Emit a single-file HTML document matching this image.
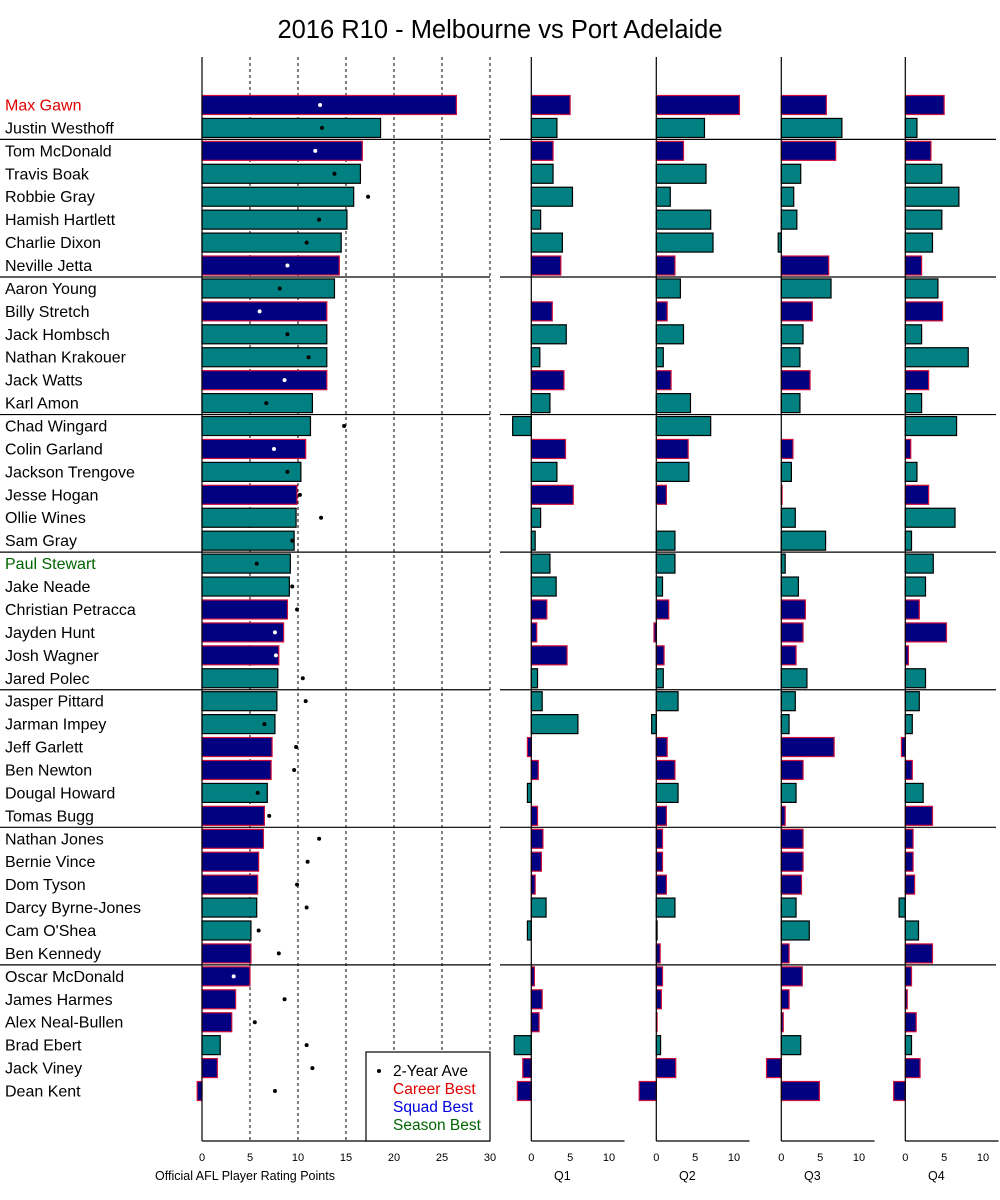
<!DOCTYPE html>
<html><head><meta charset="utf-8">
<style>
html,body{margin:0;padding:0;background:#fff;}
svg{display:block;font-family:"Liberation Sans",sans-serif;}
</style></head>
<body>
<svg id="chart" width="1000" height="1200" viewBox="0 0 1000 1200" xmlns="http://www.w3.org/2000/svg">
<text x="500" y="38" font-size="25.5" text-anchor="middle">2016 R10 - Melbourne vs Port Adelaide</text>
</svg>
<script>
const players = ["Max Gawn","Justin Westhoff","Tom McDonald","Travis Boak","Robbie Gray","Hamish Hartlett","Charlie Dixon","Neville Jetta","Aaron Young","Billy Stretch","Jack Hombsch","Nathan Krakouer","Jack Watts","Karl Amon","Chad Wingard","Colin Garland","Jackson Trengove","Jesse Hogan","Ollie Wines","Sam Gray","Paul Stewart","Jake Neade","Christian Petracca","Jayden Hunt","Josh Wagner","Jared Polec","Jasper Pittard","Jarman Impey","Jeff Garlett","Ben Newton","Dougal Howard","Tomas Bugg","Nathan Jones","Bernie Vince","Dom Tyson","Darcy Byrne-Jones","Cam O'Shea","Ben Kennedy","Oscar McDonald","James Harmes","Alex Neal-Bullen","Brad Ebert","Jack Viney","Dean Kent"];
const teams = ["M","P","M","P","P","P","P","M","P","M","P","P","M","P","P","M","P","M","P","P","P","P","M","M","M","P","P","P","M","M","P","M","M","M","M","P","P","M","M","M","M","P","M","M"];
const totals = [26.5,18.6,16.7,16.5,15.8,15.1,14.5,14.3,13.8,13.0,13.0,13.0,13.0,11.5,11.3,10.8,10.3,9.9,9.8,9.6,9.2,9.1,8.9,8.5,8.0,7.9,7.8,7.6,7.3,7.2,6.8,6.5,6.4,5.9,5.8,5.7,5.1,5.1,5.0,3.5,3.1,1.9,1.6,-0.5];
const avg2yr = [12.3,12.5,11.8,13.8,17.3,12.2,10.9,8.9,8.1,6.0,8.9,11.1,8.6,6.7,14.8,7.5,8.9,10.2,12.4,9.4,5.7,9.4,9.9,7.6,7.7,10.5,10.8,6.5,9.8,9.6,5.8,7.0,12.2,11.0,9.9,10.9,5.9,8.0,3.3,8.6,5.5,10.9,11.5,7.6];
const q1 = [5.0,3.3,2.8,2.8,5.3,1.2,4.0,3.8,0,2.7,4.5,1.1,4.2,2.4,-2.4,4.4,3.3,5.4,1.2,0.5,2.4,3.2,2.0,0.7,4.6,0.8,1.4,6.0,-0.5,0.9,-0.5,0.8,1.5,1.3,0.5,1.9,-0.5,0,0.4,1.4,1.0,-2.2,-1.1,-1.8];
const q2 = [10.7,6.2,3.5,6.4,1.8,7.0,7.3,2.4,3.1,1.4,3.5,0.9,1.9,4.4,7.0,4.1,4.2,1.3,0,2.4,2.4,0.8,1.6,-0.3,1.0,0.9,2.8,-0.6,1.4,2.4,2.8,1.3,0.8,0.8,1.3,2.4,0.1,0.5,0.8,0.65,0.1,0.55,2.5,-2.2];
const q3 = [5.8,7.8,7.0,2.5,1.6,2.0,-0.4,6.1,6.4,4.0,2.8,2.4,3.7,2.4,0,1.5,1.3,0.1,1.8,5.7,0.5,2.2,3.1,2.8,1.9,3.3,1.8,1.0,6.8,2.8,1.9,0.5,2.8,2.8,2.6,1.9,3.6,1.0,2.7,1.0,0.25,2.5,-1.9,4.9];
const q4 = [5.0,1.5,3.3,4.7,6.9,4.7,3.5,2.1,4.2,4.8,2.1,8.1,3.0,2.1,6.6,0.7,1.5,3.0,6.4,0.8,3.6,2.6,1.8,5.3,0.4,2.6,1.8,0.9,-0.5,0.9,2.3,3.5,1.0,1.0,1.2,-0.8,1.7,3.5,0.8,0.25,1.4,0.8,1.9,-1.5];
const nameColors = {"Max Gawn":"#e00000","Paul Stewart":"#006400"};
const mainTicks = [0,5,10,15,20,25,30];
const qTicks = [0,5,10];
const qLabels = ["Q1","Q2","Q3","Q4"];
const legendItems = ["2-Year Ave","Career Best","Squad Best","Season Best"];
const legendColors = ["#000","#e00000","#0000dd","#006400"];

const svg = document.getElementById('chart');
const NS = "http://www.w3.org/2000/svg";
function mk(tag, attrs){const e=document.createElementNS(NS,tag);for(const k in attrs)e.setAttribute(k,attrs[k]);svg.appendChild(e);return e;}

const top0 = 57, bottom = 1141, row0 = 105, pitch = (1091-105)/43, barH = 19;
const yRow = i => row0 + i*pitch;
const xMain = v => 202 + v*9.6;
const qZero = [531.3,656.3,781.3,905.3];
const qUnit = 7.77;
const xQ = (k,v) => qZero[k] + v*qUnit;
const colors = {M:{fill:"#000080",stroke:"#d0103a"},P:{fill:"#008080",stroke:"#000"}};

mainTicks.forEach(t=>{
  if(t===0) return;
  const l=mk('line',{x1:xMain(t),x2:xMain(t),y1:top0,y2:bottom,stroke:'#000','stroke-width':1,'stroke-dasharray':'3,3'});
  
  
});
for(let g=1; g<8; g++){
  const idx = g===1 ? 1 : 1+6*(g-1);
  const y = yRow(idx)+pitch/2;
  const a=mk('line',{x1:0,x2:490,y1:y,y2:y,stroke:'#000','stroke-width':1.2});
  
  
  const b=mk('line',{x1:500,x2:996,y1:y,y2:y,stroke:'#000','stroke-width':1.2});
  
  
}
players.forEach((p,i)=>{
  const y=yRow(i);
  const t=mk('text',{x:5,y:y+5.5,'font-size':16,fill:nameColors[p]||'#000'});
  t.textContent=p;
  
  
  const v=totals[i], c=colors[teams[i]];
  const x0=Math.min(xMain(0),xMain(v)), w=Math.abs(xMain(v)-xMain(0));
  const r=mk('rect',{x:x0,y:y-barH/2,width:w,height:barH,fill:c.fill,stroke:c.stroke,'stroke-width':1.2});
  
  
  const dx=xMain(avg2yr[i]);
  const inside = teams[i]==='M' && avg2yr[i]<v;
  const d=mk('circle',{cx:dx,cy:y,r:2,fill:inside?'#fff':'#000'});
  
  
  [q1,q2,q3,q4].forEach((arr,k)=>{
    const qv=arr[i]; if(qv===0) return;
    const qx0=Math.min(xQ(k,0),xQ(k,qv)), qw=Math.abs(xQ(k,qv)-xQ(k,0));
    const qr=mk('rect',{x:qx0,y:y-barH/2,width:qw,height:barH,fill:c.fill,stroke:c.stroke,'stroke-width':1.2});
    
    
  });
});
let e=mk('line',{x1:202,x2:202,y1:top0,y2:bottom,stroke:'#000','stroke-width':1.2});


e=mk('line',{x1:202,x2:490,y1:bottom,y2:bottom,stroke:'#000','stroke-width':1.2});


mainTicks.forEach(t=>{
  const tx=mk('text',{x:xMain(t),y:1161,'font-size':11,'text-anchor':'middle'});
  tx.textContent=t;
  
  
});
e=mk('text',{x:245,y:1180,'font-size':12.5,'text-anchor':'middle'});
e.textContent='Official AFL Player Rating Points';


qLabels.forEach((q,k)=>{
  let a=mk('line',{x1:xQ(k,0),x2:xQ(k,0),y1:top0,y2:bottom,stroke:'#000','stroke-width':1.2});
  
  
  a=mk('line',{x1:xQ(k,0),x2:xQ(k,12),y1:bottom,y2:bottom,stroke:'#000','stroke-width':1.2});
  
  
  qTicks.forEach(t=>{
    const tx=mk('text',{x:xQ(k,t),y:1161,'font-size':11,'text-anchor':'middle'});
    tx.textContent=t;
    
    
  });
  const lb=mk('text',{x:xQ(k,4),y:1180,'font-size':12.5,'text-anchor':'middle'});
  lb.textContent=q;
  
  
});
e=mk('rect',{x:366,y:1052,width:124,height:89,fill:'#fff',stroke:'#000','stroke-width':1.2});


e=mk('circle',{cx:379,cy:1071,r:2,fill:'#000'});


legendItems.forEach((s,i)=>{
  const t=mk('text',{x:393,y:1076+i*18,'font-size':15.5,fill:legendColors[i]});
  t.textContent=s;
  
  
});
</script>
</body></html>
